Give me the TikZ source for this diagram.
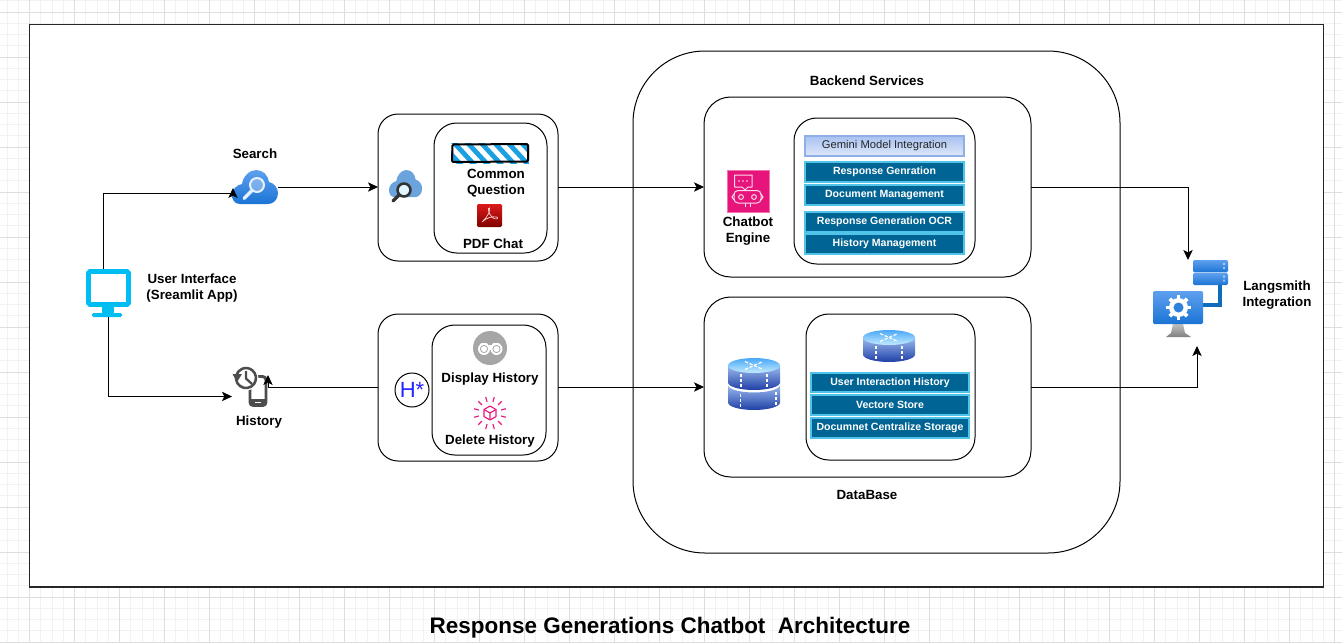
\documentclass[tikz,border=0pt]{standalone}
\usepackage{fontspec}
\usetikzlibrary{arrows.meta}
\setmainfont{Liberation Sans}
\definecolor{uiblue}{HTML}{00BEF2}
\definecolor{barfill}{HTML}{006494}
\definecolor{barline}{HTML}{4FC3E8}
\definecolor{pinkaws}{HTML}{E7157B}
\definecolor{hatchblue}{HTML}{1BA1E2}
\definecolor{azureA}{HTML}{5EA0EF}
\definecolor{azureB}{HTML}{1B74D4}
\definecolor{iconGrey}{HTML}{4D4D4D}
\definecolor{gemTop}{HTML}{A9C2F0}
\definecolor{gemBot}{HTML}{DDE8FA}
\definecolor{gemLine}{HTML}{8FB0E6}
\definecolor{cylTop}{HTML}{9DBBEF}
\definecolor{cylBot}{HTML}{1F3FA6}
\definecolor{ellTop}{HTML}{4AA8F8}
\definecolor{ellBot}{HTML}{C4EBFF}
\definecolor{pipeBlue}{HTML}{0F6CBD}
\tikzset{
  x=0.75pt,y=-0.75pt,
  conn/.style={draw=black,line width=0.75pt,-{Stealth[length=7.5pt,width=7pt,inset=1.8pt]}},
  outerbox/.style={draw=black,fill=white,line width=0.75pt,rounded corners=15pt,inner sep=0pt,outer sep=0pt,anchor=north west},
  innerbox/.style={outerbox,rounded corners=17pt},
  bigbox/.style={outerbox,rounded corners=54pt,fill=none},
  iconbox/.style={inner sep=0pt,outer sep=0pt,anchor=north west},
  bar/.style={draw=barline,fill=barfill,line width=0.9pt,inner sep=0pt,outer sep=0pt,anchor=north west,text=white,font=\bfseries\fontsize{7.9}{10}\selectfont},
  gembar/.style={bar,draw=gemLine,top color=gemTop,bottom color=gemBot,text=black!85,font=\fontsize{8.4}{10}\selectfont},
  lab/.style={font=\bfseries\fontsize{10}{12}\selectfont,align=center,inner sep=0pt},
}
\newcommand{\bx}[6]{\node[#6,minimum width={(#4-#2)*0.75pt},minimum height={(#5-#3)*0.75pt}] (#1) at (#2,#3) {};}
\newcommand{\barnode}[7][bar]{\node[#1,minimum width={(#5-#3)*0.75pt},minimum height={(#6-#4)*0.75pt}] (#2) at (#3,#4) {\raisebox{0.3pt}{#7}};}
\newcommand{\cloudshape}{(8,34) .. controls (2,34) and (0,29) .. (0,25) .. controls (0,19) and (5,15) .. (10,14) .. controls (11,6) and (18,0) .. (24,0) .. controls (31,0) and (36,5) .. (37,12) .. controls (42,13) and (46,18) .. (46,23) .. controls (46,30) and (41,34) .. (36,34) -- cycle}
\newcommand{\cylinder}[5]{% cx rx ytop ry height
  \shade[top color=cylTop,bottom color=cylBot] (#1-#2,#3) -- (#1-#2,#3+#5) arc[start angle=180,end angle=0,x radius=#2,y radius=#4] -- (#1+#2,#3) -- cycle;
  \shade[top color=ellTop,bottom color=ellBot] (#1,#3) ellipse[x radius=#2,y radius=#4];
  \draw[white,line width=0.9pt,dash pattern=on 2.2pt off 1.5pt] (#1-13,#3+#4+1) -- (#1-13,#3+#5+#4-1);
  \draw[white,line width=0.9pt,dash pattern=on 2.2pt off 1.5pt] (#1+13,#3+#4+1) -- (#1+13,#3+#5+#4-1);
  \draw[white,line width=0.9pt,dash pattern=on 2.5pt off 1.2pt] (#1-9,#3-4) -- (#1+9,#3+4);
  \draw[white,line width=0.9pt,dash pattern=on 2.5pt off 1.2pt] (#1-9,#3+4) -- (#1+9,#3-4);
}
\begin{document}
\begin{tikzpicture}
\useasboundingbox (0,0) rectangle (1342,643);
% page grid
\fill[white] (0,0) rectangle (1342,643);
\foreach \i in {0,...,119} {\draw[black!5,line width=0.6pt] ({7+11.25*\i},0) -- ({7+11.25*\i},643);}
\foreach \i in {0,...,57} {\draw[black!5,line width=0.6pt] (0,{0.75+11.25*\i}) -- (1342,{0.75+11.25*\i});}
\foreach \i in {0,...,29} {\draw[black!13,line width=0.6pt] ({29.3+45*\i},0) -- ({29.3+45*\i},643);}
\foreach \i in {0,...,14} {\draw[black!13,line width=0.6pt] (0,{12+45*\i}) -- (1342,{12+45*\i});}
% frame
\node[draw=black!85,fill=white,line width=1.1pt,inner sep=0pt,outer sep=0pt,anchor=north west,minimum width={1294*0.75pt},minimum height={562.5*0.75pt}] (frame) at (29.3,24.5) {};
% containers
\bx{backend}{633}{51}{1120}{553}{bigbox}
\bx{chatbox}{704}{97}{1031}{277}{outerbox,rounded corners=20pt}
\bx{dbbox}{704}{297}{1031}{477}{outerbox,rounded corners=20pt}
\bx{chatinner}{794}{118}{975}{264}{innerbox}
\bx{dbinner}{806}{314}{975}{460}{innerbox}
\bx{searchbox}{378}{114}{558}{261}{outerbox}
\bx{searchinner}{434}{123}{547}{253}{innerbox}
\bx{histbox}{378}{314}{558}{461}{outerbox}
\bx{histinner}{432}{325}{546}{455}{innerbox}
% bars
\barnode[gembar]{gem}{805}{136}{964}{156}{Gemini Model Integration}
\barnode{rg}{805}{162}{964}{182}{Response Genration}
\barnode{dm}{805}{185}{964}{205}{Document Management}
\barnode{ocr}{805}{212}{964}{232}{Response Generation OCR}
\barnode{hm}{805}{234}{964}{254}{History Management}
\barnode{uih}{811}{373}{969}{392}{User Interaction History}
\barnode{vs}{811}{395}{969}{415}{Vectore Store}
\barnode{dcs}{811}{418}{969}{438}{Documnet Centralize Storage}
% --- UI monitor icon
\bx{ui}{86}{269}{131}{317}{iconbox}
\draw[uiblue,line width=3.4pt,rounded corners=1pt,fill=white] (88.5,271.5) rectangle (128.5,304.5);
\fill[uiblue] (102,306) rectangle (114,313);
\fill[uiblue,rounded corners=1pt] (92,313) rectangle (122,317);
% --- search cloud
\bx{search}{232}{170}{278}{204}{iconbox}
\begin{scope}[shift={(232,170)}]
\shade[top color=azureA,bottom color=azureB] \cloudshape;
\end{scope}
\fill[white,opacity=0.3] (257,185) circle (6.5);
\draw[white!85!azureA,line width=1.5pt] (257,185) circle (7);
\draw[white!85!azureA,line width=2.4pt,line cap=round] (252,190.5) -- (244,198.5);
% --- history icon
\bx{hist}{232}{367}{268}{407}{iconbox}
\draw[iconGrey,line width=2.2pt,rounded corners=2.5pt,fill=white] (250,376.5) rectangle (266,405.5);
\fill[iconGrey] (250,399) rectangle (266,405.5);
\draw[white,line width=0.8pt] (255,402.5) -- (261,402.5);
\fill[white] (246,378) circle (12.5);
\draw[iconGrey,line width=1.9pt] (238,372) arc[start angle=217,end angle=-165,radius=10];
\fill[iconGrey] (232.5,374) -- (242,374) -- (237,382) -- cycle;
\draw[iconGrey,line width=1.7pt] (246,371) -- (246,378.5) -- (252,384);
% --- small cloud
\bx{cloudsmall}{389}{170}{422}{204}{iconbox}
\begin{scope}[shift={(389,170)},xscale=0.72,yscale=0.8]
\fill[cyan!60!blue!60!white] \cloudshape;
\end{scope}
\draw[black!80,line width=1.9pt,fill=cyan!12!white] (404,190) circle (6.5);
\draw[black!80,line width=2.6pt,line cap=round] (399,195) -- (393,201);
% --- hatched bar
\bx{hatch}{452}{144}{528}{162}{iconbox}
\begin{scope}
\clip (451,143) rectangle (529,163);
\fill[white] (452,144) rectangle (528,162);
\foreach \i in {0,...,7} {\draw[hatchblue,line width=3.6pt] ({438+13.5*\i},140) -- ({462+13.5*\i},166);}
\end{scope}
\draw[black,line width=1.5pt,rounded corners=1pt] (452.5,144.5) -- (528,144) -- (528,161.5) -- (452,162) -- cycle;
% --- pdf icon
\bx{pdf}{477}{204}{502}{227}{iconbox}
\shade[top color=red!85!black!90!white,bottom color=red!50!black,rounded corners=1pt] (477,204) rectangle (502,227);
\draw[white!85!red,line width=0.5pt] (482,222) .. controls (487,218) and (491,210) .. (489.5,208) .. controls (487.5,207) and (488,214) .. (493,218) .. controls (496,220) and (499,218.5) .. (497,217) .. controls (492,216) and (486,218) .. (482,222);
% --- H* circle
\node[draw=black,fill=white,circle,line width=0.75pt,minimum size={34*0.75pt},inner sep=0pt,outer sep=0pt,text=blue!85!white,font=\fontsize{16.5}{18}\selectfont] (hstar) at (412,390) {H*};
% --- binoculars
\node[circle,fill=black!35,minimum size={34*0.75pt},inner sep=0pt,outer sep=0pt] (bino) at (490,348) {};
\fill[white,rounded corners=1.5pt] (480,343) rectangle (488,350);
\fill[white,rounded corners=1.5pt] (492,343) rectangle (500,350);
\fill[white] (486,345) rectangle (494,350);
\fill[white] (484,349) circle (6);
\fill[white] (496.5,349) circle (6);
\draw[black!35,line width=0.6pt] (484,349) circle (3.6);
\draw[black!35,line width=0.6pt] (496.5,349) circle (3.6);
% --- delete (pink burst)
\bx{burst}{473}{396}{507}{430}{iconbox}
\foreach \a in {15,45,...,345} {\draw[pinkaws,line width=0.85pt] ({490+11.5*cos(\a)},{413+11.5*sin(\a)}) -- ({490+16.5*cos(\a)},{413+16.5*sin(\a)});}
\draw[pinkaws,line width=0.85pt,line join=round] (490,406) -- (496,409.5) -- (496,416.5) -- (490,420) -- (484,416.5) -- (484,409.5) -- cycle;
\draw[pinkaws,line width=0.85pt] (484,409.5) -- (490,413) -- (496,409.5) (490,413) -- (490,420);
% --- chatbot icon
\bx{chaticon}{727}{170}{769}{212}{iconbox}
\fill[pinkaws,draw=pinkaws!60!white,line width=0.3pt] (727,170) rectangle (769,212);
\draw[white!85!pinkaws,line width=0.75pt,line join=round] (734.5,175) -- (752,175) -- (752,187) -- (748,187) -- (745,190) -- (742,187) -- (734.5,187) -- cycle;
\fill[white!85!pinkaws] (739,181) circle (0.8) (743,181) circle (0.8) (747,181) circle (0.8);
\draw[white!85!pinkaws,line width=0.75pt,rounded corners=3pt] (734,190.5) rectangle (761,203);
\draw[white!85!pinkaws,line width=0.75pt] (741,197) circle (2.4) (754,197) circle (2.4);
\draw[white!85!pinkaws,line width=0.75pt] (734,194) -- (732,197) -- (734,200) (761,194) -- (763,197) -- (761,200);
\draw[white!85!pinkaws,line width=0.75pt] (745,203) -- (745,207) (750,203) -- (750,207);
% --- DB icons
\bx{dbicon}{728}{358}{780}{410}{iconbox}
\shade[top color=cylTop,bottom color=cylBot] (728,385) arc[start angle=180,end angle=0,x radius=26,y radius=7.5] -- (780,402.5) arc[start angle=0,end angle=180,x radius=26,y radius=7.5] -- cycle;
\draw[white,line width=0.9pt,dash pattern=on 2.2pt off 1.5pt] (740.5,394) -- (740.5,407);
\draw[white,line width=0.9pt,dash pattern=on 2.2pt off 1.5pt] (776,392) -- (776,405);
\cylinder{754}{26}{365.5}{7.5}{17}
\bx{dbsmall}{863}{330}{915}{362}{iconbox}
\cylinder{889}{26}{337.5}{7.5}{17}
% --- langsmith icon
\bx{lang}{1153}{260}{1228}{337}{iconbox}
\draw[pipeBlue,line width=3pt] (1220,285) -- (1220,304.5) -- (1203,304.5);
\shade[top color=azureA,bottom color=azureB,rounded corners=1pt] (1193,260) rectangle (1228,272.3);
\shade[top color=azureA,bottom color=azureB,rounded corners=1pt] (1193,273) rectangle (1228,285);
\fill[white,opacity=0.5] (1223,263) rectangle (1225,265) (1223,267) rectangle (1225,269) (1223,275.5) rectangle (1225,277.5) (1223,279.5) rectangle (1225,281.5);
\shade[top color=black!25,bottom color=black!50] (1173,324) -- (1183,324) -- (1185,333) -- (1191,337) -- (1166,337) -- (1171,333) -- cycle;
\shade[top color=azureA,bottom color=azureB,rounded corners=1pt] (1153,291) rectangle (1203,324);
\foreach \a in {0,45,...,315} {\draw[white,line width=2.8pt] ({1178.5+6*cos(\a)},{307.5+6*sin(\a)}) -- ({1178.5+12.3*cos(\a)},{307.5+12.3*sin(\a)});}
\fill[white] (1178.5,307.5) circle (9.5);
\fill[azureB!70!azureA] (1178.5,307.5) circle (5);
% --- labels
\node[lab] (tsearch) at (255,154) {Search};
\node[lab] (tui) at (192,288) {User Interface\\(Sreamlit App)};
\node[lab] (thist) at (259,422.5) {History};
\node[lab] (tcq) at (496,183) {Common\\Question};
\node[lab] (tpdf) at (493,244) {PDF Chat};
\node[lab] (tdisp) at (490,379.5) {Display History};
\node[lab] (tdel) at (490,441.5) {Delete History};
\node[lab] (tchat) at (748,231) {Chatbot\\Engine};
\node[lab,font=\fontsize{10}{12}\selectfont\bfseries] (tback) at (867,80.5) {Backend Services};
\node[lab,font=\fontsize{10}{12}\selectfont\bfseries] (tdb) at (867,494.5) {DataBase};
\node[lab] (tlang) at (1277,295) {Langsmith\\Integration};
\node[font=\fontsize{16.85}{18}\selectfont\bfseries,inner sep=0pt] (title) at (670,628) {Response Generations Chatbot\ \ Architecture};
% --- connectors
\coordinate (uiTop) at (103,269);
\coordinate (searchIn) at (233,193);
\coordinate (searchTip) at (233,188);
\draw[conn] (uiTop) -- (uiTop |- searchIn) -- (searchIn) -- (searchTip);
\draw[conn] (ui.south) |- ([yshift=-7.1pt]hist.west);
\coordinate (s1) at (278,187);
\draw[conn] (s1) -- (searchbox.west |- s1);
\coordinate (h1) at (268,387);
\coordinate (h0) at (268,375);
\draw[conn] (histbox.west |- h1) -- (h1) -- (h0);
\draw[conn] (searchbox.east |- s1) -- (chatbox.west |- s1);
\draw[conn] (histbox.east |- h1) -- (dbbox.west |- h1);
\coordinate (ltop) at (1188,260);
\draw[conn] (chatbox.east |- s1) -| (ltop);
\coordinate (lbot) at (1197,346);
\draw[conn] (dbbox.east |- h1) -| (lbot);
\end{tikzpicture}
\end{document}
